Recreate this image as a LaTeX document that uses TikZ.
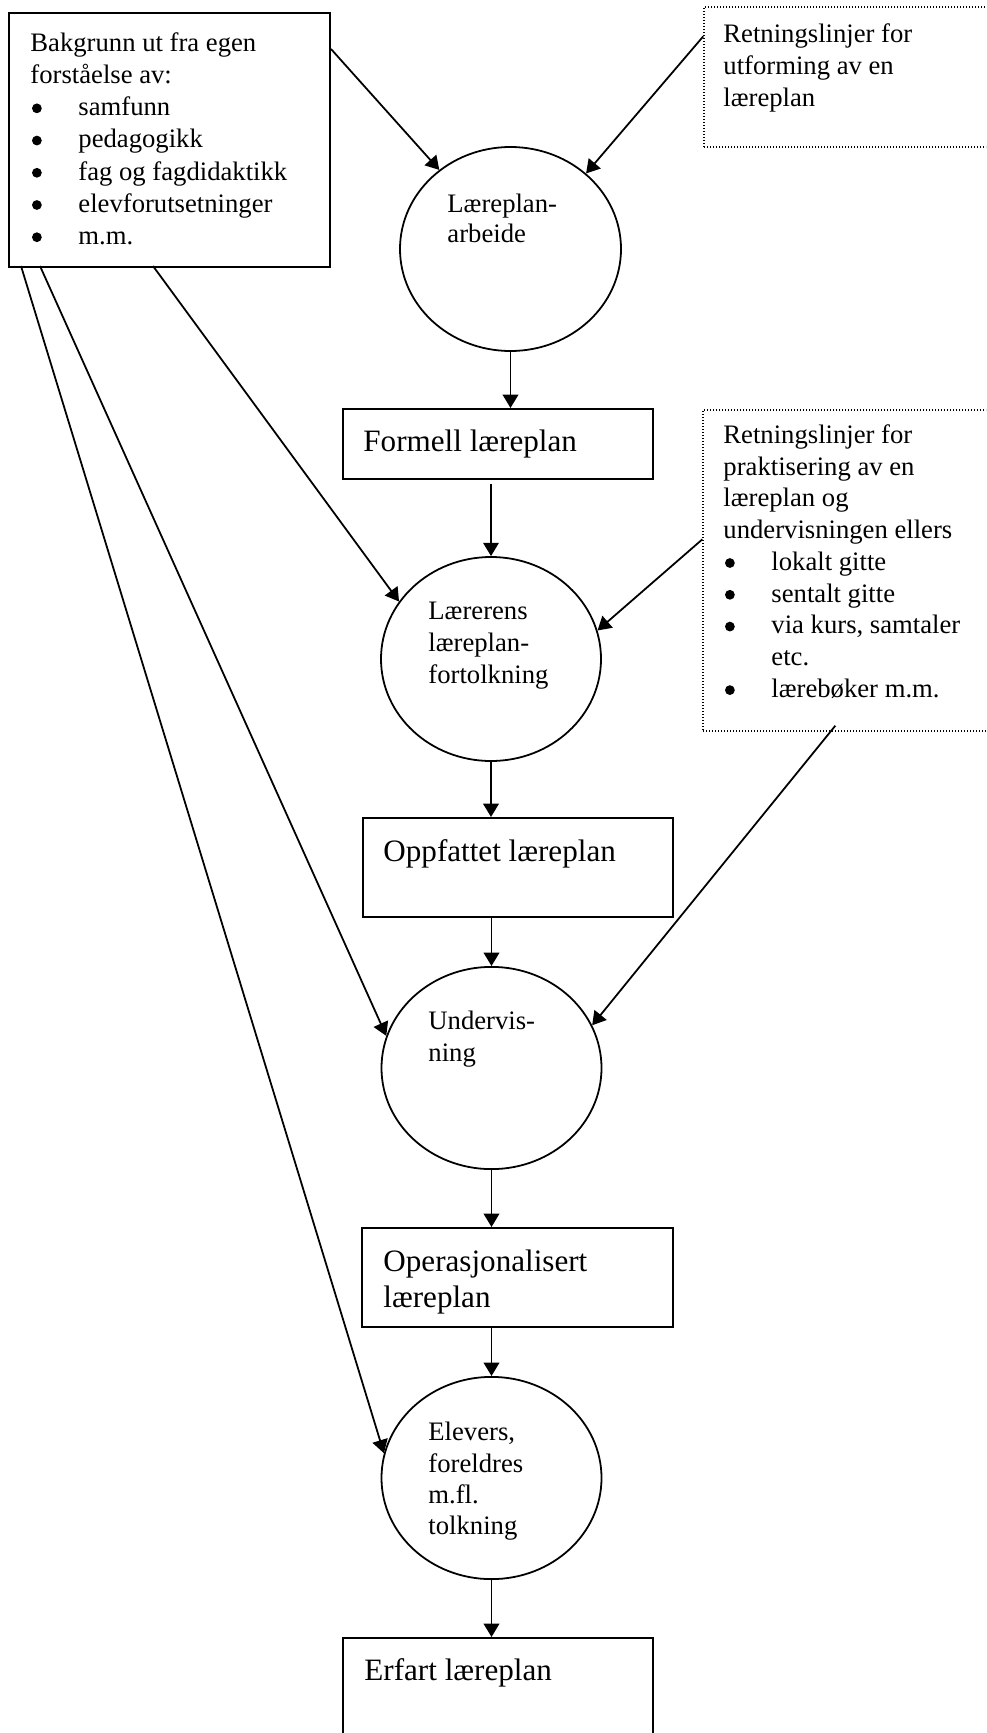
\documentclass[tikz,border=0pt]{standalone}
\usepackage{fontspec}
\setmainfont{Liberation Serif}
\usetikzlibrary{shapes.geometric,arrows.meta,calc}
% round bullet with a fixed hanging indent
\newcommand\bulitem[1]{\makebox[21.6pt][l]{\hspace*{0.7pt}\tikz[baseline=0pt]\fill (2.2pt,3.3pt) circle (2.2pt);}#1}
\begin{document}
\begin{tikzpicture}[x=0.45pt,y=-0.45pt,
  box/.style={draw,line width=0.9pt,rectangle,inner sep=0pt},
  guide/.style={draw,line width=0.6pt,dash pattern=on 0.6pt off 0.75pt,rectangle,inner sep=0pt},
  stage/.style={draw,line width=0.8pt,ellipse,inner sep=0pt},
  small/.style={font=\fontsize{12pt}{14pt}\selectfont,align=left,inner sep=0pt,anchor=north west},
  big/.style={font=\fontsize{14pt}{16.6pt}\selectfont,align=left,inner sep=0pt,anchor=north west},
  flow/.style={line width=0.8pt,-{Triangle[length=6pt,width=7pt]}},
]
\useasboundingbox (0,0) rectangle (986,1733);
\clip (0,0) rectangle (986,1733);

% ---- frames ----
\node[box,minimum width=144.45pt,minimum height=114.3pt] (bg) at (169.5,140) {};
\node[guide,minimum width=131pt,minimum height=63pt] (g1) at (849.5,77) {};
\node[guide,minimum width=131.4pt,minimum height=144.45pt] (g2) at (849,570.5) {};

\node[stage,minimum width=99.45pt,minimum height=91.8pt] (e1) at (510.5,249) {};
\node[box,minimum width=139.5pt,minimum height=31.5pt] (form) at (498,444) {};
\node[stage,minimum width=99pt,minimum height=91.8pt] (e2) at (491,659) {};
\node[box,minimum width=139.5pt,minimum height=44.55pt] (oppf) at (518,867.5) {};
\node[stage,minimum width=99pt,minimum height=91pt] (e3) at (491.5,1068) {};
\node[box,minimum width=140pt,minimum height=44.55pt] (oper) at (517.5,1277.5) {};
\node[stage,minimum width=99pt,minimum height=91pt] (e4) at (491.5,1478) {};
\node[box,minimum width=139.5pt,minimum height=48.15pt] (erf) at (498,1691.5) {};

% ---- texts ----
\node[small,font=\fontsize{12pt}{14.5pt}\selectfont] (bgtext) at (30,32) {Bakgrunn ut fra egen\\
forståelse av:\\
\bulitem{samfunn}\\
\bulitem{pedagogikk}\\
\bulitem{fag og fagdidaktikk}\\
\bulitem{elevforutsetninger}\\
\bulitem{m.m.}};

\node[small,font=\fontsize{12pt}{14.5pt}\selectfont] (g1text) at (723,23) {Retningslinjer for\\
utforming av en\\
læreplan};

\node[small,font=\fontsize{12pt}{14.3pt}\selectfont] (g2text) at (723,424) {Retningslinjer for\\
praktisering av en\\
læreplan og\\
undervisningen ellers\\
\bulitem{lokalt gitte}\\
\bulitem{sentalt gitte}\\
\bulitem{via kurs, samtaler}\\
\hspace*{21.6pt}etc.\\
\bulitem{lærebøker m.m.}};

\node[small,font=\fontsize{12pt}{13.5pt}\selectfont] (e1text) at (447,194) {Læreplan-\\arbeide};
\node[small,font=\fontsize{12pt}{14.2pt}\selectfont] (e2text) at (428,602) {Lærerens\\læreplan-\\fortolkning};
\node[small] (e3text) at (428,1011) {Undervis-\\ning};
\node[small] (e4text) at (428,1422) {Elevers,\\foreldres\\m.fl.\\tolkning};

\node[big] (formtext) at (363,429) {Formell læreplan};
\node[big] (oppftext) at (383,839) {Oppfattet læreplan};
\node[big] (opertext) at (383,1249) {Operasjonalisert\\læreplan};
\node[big] (erftext) at (364,1658) {Erfart læreplan};

% ---- connectors ----
\draw[flow] ($(bg.north east)+(0,37)$) -- (e1.132);
\draw[flow] ($(g1.north west)+(0,30)$) -- (e1.45);
\draw[flow] (e1.south) -- (e1.south |- form.north);
\draw[flow] ($(e2.north |- form.south)+(0,4)$) -- (e2.north);
\draw[flow] ($(bg.south west)+(145,-2)$) -- (e2.148);
\draw[flow] ($(g2.north west)+(0,130)$) -- (e2.15);
\draw[flow] (e2.south) -- (e2.south |- oppf.north);
\draw[flow] (e3.north |- oppf.south) -- (e3.north);
\draw[flow] ($(bg.south west)+(32,-2)$) -- (e3.163);
\draw[flow] ($(g2.south west)+(133,-6)$) -- (e3.23);
\draw[flow] (e3.south) -- (e3.south |- oper.north);
\draw[flow] (e4.north |- oper.south) -- (e4.north);
\draw[flow] ($(bg.south west)+(13,-2)$) -- (e4.167);
\draw[flow] (e4.south) -- (e4.south |- erf.north);
\end{tikzpicture}
\end{document}
